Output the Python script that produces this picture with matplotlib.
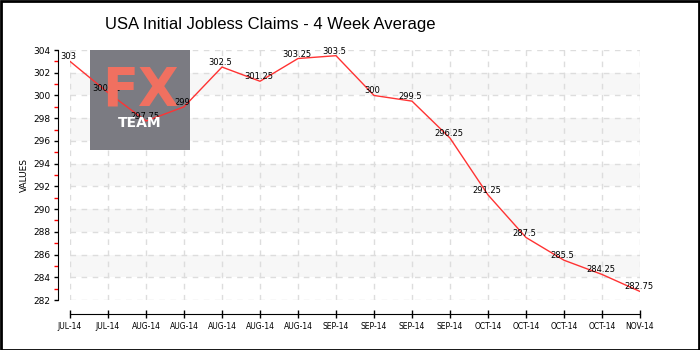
import matplotlib
matplotlib.use("Agg")
import matplotlib.pyplot as plt
from matplotlib.patches import Rectangle

# data
labels = ["JUL-14", "JUL-14", "AUG-14", "AUG-14", "AUG-14", "AUG-14", "AUG-14",
          "SEP-14", "SEP-14", "SEP-14", "SEP-14", "OCT-14", "OCT-14", "OCT-14",
          "OCT-14", "NOV-14"]
values = [303, 300.25, 297.75, 299, 302.5, 301.25, 303.25, 303.5, 300, 299.5,
          296.25, 291.25, 287.5, 285.5, 284.25, 282.75]
value_text = ["303", "300.25", "297.75", "299", "302.5", "301.25", "303.25", "303.5",
              "300", "299.5", "296.25", "291.25", "287.5", "285.5", "284.25", "282.75"]
y_min, y_max = 282, 304

plt.rcParams["font.family"] = ["DejaVu Sans"]

fig = plt.figure(figsize=(7, 3.5), dpi=100)
# plot area in pixels: x 70..640, y 50..300
ax = fig.add_axes([70 / 700, 50 / 350, 570 / 700, 250 / 350])
xs = list(range(len(values)))
ax.set_xlim(0, len(values) - 1)
ax.set_ylim(y_min, y_max)

# alternating bands
for lo in range(284, 304, 4):
    ax.axhspan(lo, lo + 2, color="#f7f7f7", zorder=0, lw=0)

ax.grid(True, color="#dddddd", linestyle=(0, (4, 4)), linewidth=1, zorder=1)

# FX TEAM watermark box
ax.add_patch(Rectangle((90 / 700, 200 / 350), 100 / 700, 100 / 350,
                       transform=fig.transFigure, color="#7b7b82", zorder=2, lw=0))
fig.text(140 / 700, 259 / 350, "FX", color="#f07060", fontsize=38, fontweight="bold",
         ha="center", va="center", zorder=3)
fig.text(140 / 700, 227 / 350, "TEAM", color="white", fontsize=10, fontweight="bold",
         ha="center", va="center", zorder=3)

ax.plot(xs, values, color="#ff3333", lw=1, zorder=4)
for x, v, t in zip(xs, values, value_text):
    ax.annotate(t, (x, v), xytext=(-1, 0), textcoords="offset points",
                ha="center", va="bottom", fontsize=6, zorder=5)

ax.set_xticks(xs)
ax.set_xticklabels(labels)
ax.set_yticks(range(y_min, y_max + 1, 2))
ax.set_yticks(range(y_min + 1, y_max, 2), minor=True)
ax.tick_params(axis="y", which="major", labelsize=6.5, length=3, width=1, pad=2)
ax.tick_params(axis="y", which="minor", length=3, width=1, color="red")
ax.tick_params(axis="x", which="major", direction="inout", length=6, width=1, pad=3,
               labelsize=5.5)

for side in ("top", "right"):
    ax.spines[side].set_visible(False)
ax.spines["left"].set_position(("outward", 9))
ax.spines["bottom"].set_position(("outward", 10))
ax.set_ylabel("VALUES", fontsize=6.5, labelpad=3)

fig.text(105 / 700, 326 / 350, "USA Initial Jobless Claims - 4 Week Average",
         fontsize=12, ha="left", va="center",
         family=["Liberation Sans", "DejaVu Sans"])

fig.patches.append(Rectangle((0.5 / 700, 0.5 / 350), 698.5 / 700, 348.5 / 350,
                             transform=fig.transFigure, fill=False,
                             edgecolor="black", lw=2))

fig.savefig("out.png", dpi=100)
